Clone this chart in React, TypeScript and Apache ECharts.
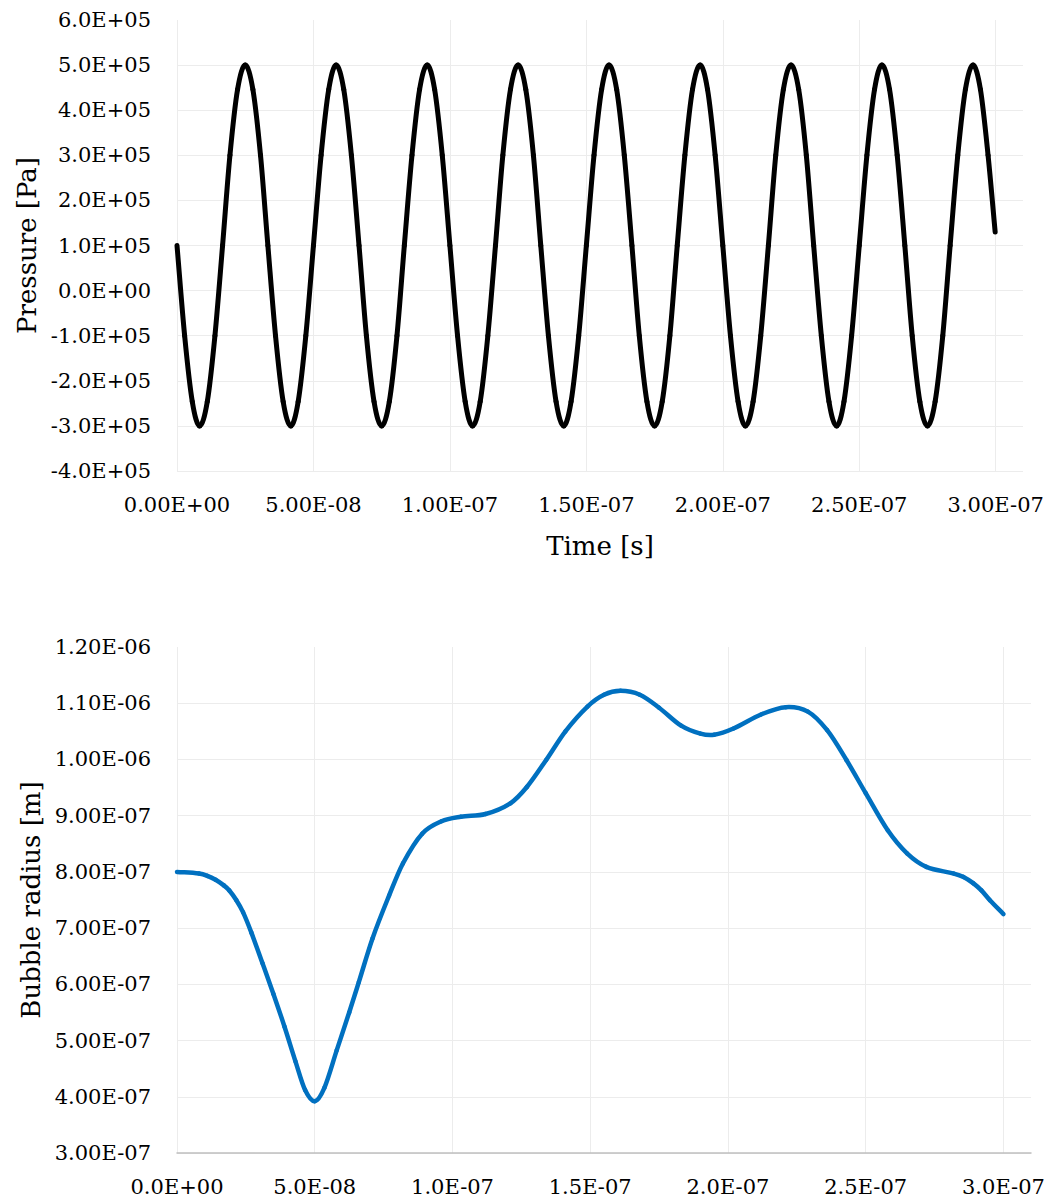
import React, { useEffect, useRef } from "react";
import * as echarts from "echarts";

// Top panel: pressure vs time (time in ns, pressure in Pa)
const pressureTimeNs = [
  0, 2.8, 5.6, 8.3, 11.1, 13.9, 16.7, 19.4, 22.2, 25.0, 27.8, 30.6,
  33.3, 36.1, 38.9, 41.7, 44.4, 47.2, 50.0, 52.8, 55.6, 58.3, 61.1, 63.9,
  66.7, 69.4, 72.2, 75.0, 77.8, 80.6, 83.3, 86.1, 88.9, 91.7, 94.4, 97.2,
  100.0, 102.8, 105.6, 108.3, 111.1, 113.9, 116.7, 119.4, 122.2, 125.0, 127.8, 130.6,
  133.3, 136.1, 138.9, 141.7, 144.4, 147.2, 150.0, 152.8, 155.6, 158.3, 161.1, 163.9,
  166.7, 169.4, 172.2, 175.0, 177.8, 180.6, 183.3, 186.1, 188.9, 191.7, 194.4, 197.2,
  200.0, 202.8, 205.6, 208.3, 211.1, 213.9, 216.7, 219.4, 222.2, 225.0, 227.8, 230.6,
  233.3, 236.1, 238.9, 241.7, 244.4, 247.2, 250.0, 252.8, 255.6, 258.3, 261.1, 263.9,
  266.7, 269.4, 272.2, 275.0, 277.8, 280.6, 283.3, 286.1, 288.9, 291.7, 294.4, 297.2,
  299.8,
];
const pressurePa = [
  1.0e5, -1.0e5, -2.46e5, -3.0e5, -2.46e5, -1.0e5, 1.0e5, 3.0e5, 4.46e5, 5.0e5, 4.46e5, 3.0e5,
  1.0e5, -1.0e5, -2.46e5, -3.0e5, -2.46e5, -1.0e5, 1.0e5, 3.0e5, 4.46e5, 5.0e5, 4.46e5, 3.0e5,
  1.0e5, -1.0e5, -2.46e5, -3.0e5, -2.46e5, -1.0e5, 1.0e5, 3.0e5, 4.46e5, 5.0e5, 4.46e5, 3.0e5,
  1.0e5, -1.0e5, -2.46e5, -3.0e5, -2.46e5, -1.0e5, 1.0e5, 3.0e5, 4.46e5, 5.0e5, 4.46e5, 3.0e5,
  1.0e5, -1.0e5, -2.46e5, -3.0e5, -2.46e5, -1.0e5, 1.0e5, 3.0e5, 4.46e5, 5.0e5, 4.46e5, 3.0e5,
  1.0e5, -1.0e5, -2.46e5, -3.0e5, -2.46e5, -1.0e5, 1.0e5, 3.0e5, 4.46e5, 5.0e5, 4.46e5, 3.0e5,
  1.0e5, -1.0e5, -2.46e5, -3.0e5, -2.46e5, -1.0e5, 1.0e5, 3.0e5, 4.46e5, 5.0e5, 4.46e5, 3.0e5,
  1.0e5, -1.0e5, -2.46e5, -3.0e5, -2.46e5, -1.0e5, 1.0e5, 3.0e5, 4.46e5, 5.0e5, 4.46e5, 3.0e5,
  1.0e5, -1.0e5, -2.46e5, -3.0e5, -2.46e5, -1.0e5, 1.0e5, 3.0e5, 4.46e5, 5.0e5, 4.46e5, 3.0e5,
  1.3e5,
];

// Bottom panel: bubble radius vs time (time in ns, radius in m)
const radiusTimeNs = [
  0, 8, 11, 14, 17, 19, 21.5, 24, 27, 31, 35, 39, 43, 46.5, 50, 53.5, 58, 62.5,
  66, 71, 77, 82, 89, 96, 103, 112, 121, 127, 134, 141, 149, 155, 161, 168, 175,
  183, 190, 195, 202, 212, 221, 229, 236, 243, 250, 258, 265, 272, 282, 285.5,
  289, 292, 295, 300,
];
const radiusM = [
  8.0e-7, 7.97e-7, 7.93e-7, 7.86e-7, 7.76e-7, 7.67e-7, 7.5e-7, 7.28e-7, 6.92e-7,
  6.38e-7, 5.83e-7, 5.25e-7, 4.63e-7, 4.12e-7, 3.92e-7, 4.16e-7, 4.83e-7, 5.5e-7,
  6.04e-7, 6.82e-7, 7.58e-7, 8.15e-7, 8.68e-7, 8.9e-7, 8.98e-7, 9.03e-7, 9.22e-7,
  9.51e-7, 9.99e-7, 1.05e-6, 1.094e-6, 1.115e-6, 1.122e-6, 1.115e-6, 1.092e-6,
  1.06e-6, 1.046e-6, 1.044e-6, 1.055e-6, 1.08e-6, 1.093e-6, 1.085e-6, 1.052e-6,
  9.99e-7, 9.4e-7, 8.74e-7, 8.33e-7, 8.09e-7, 7.97e-7, 7.91e-7, 7.8e-7, 7.67e-7,
  7.5e-7, 7.25e-7,
];

const FONT = "DejaVu Serif";

function sci(v: number, d: number): string {
  if (Math.abs(v) < 1e-30) return (0).toFixed(d) + "E+00";
  const s = v.toExponential(d);
  const [m, e] = s.split("e");
  const sign = e[0] === "-" ? "-" : "+";
  const digits = e.replace(/[+-]/, "").padStart(2, "0");
  return m + "E" + sign + digits;
}

const gridLine = { show: true, showMaxLine: false, lineStyle: { color: "#ececec", width: 1 } };
const labelStyle = { fontFamily: FONT, fontSize: 21, color: "#000" };
const nameStyle = { fontFamily: FONT, fontSize: 26, color: "#000" };

// Smooth curve (cubic Hermite) drawn segment by segment from points placed by the axes (api.coord)
function smoothSeries(data: number[][], axisIndex: number, color: string, width: number) {
  const n = data.length;
  return {
    type: "custom",
    coordinateSystem: "cartesian2d",
    xAxisIndex: axisIndex,
    yAxisIndex: axisIndex,
    data,
    encode: { x: 0, y: 1 },
    clip: false,
    renderItem: (params: any, api: any) => {
      const i = params.dataIndex;
      if (i >= n - 1) return null;
      const p = (k: number) => api.coord(data[k]);
      const slope = (k: number) => {
        const a = p(Math.max(0, k - 1));
        const b = p(Math.min(n - 1, k + 1));
        return (b[1] - a[1]) / (b[0] - a[0]);
      };
      const p1 = p(i);
      const p2 = p(i + 1);
      const h = p2[0] - p1[0];
      const m1 = slope(i);
      const m2 = slope(i + 1);
      return {
        type: "bezierCurve",
        shape: {
          x1: p1[0], y1: p1[1], x2: p2[0], y2: p2[1],
          cpx1: p1[0] + h / 3, cpy1: p1[1] + (m1 * h) / 3,
          cpx2: p2[0] - h / 3, cpy2: p2[1] - (m2 * h) / 3,
        },
        style: { stroke: color, lineWidth: width, fill: "none", lineCap: "round", lineJoin: "round" },
        silent: true,
      };
    },
  };
}

export default function App() {
  const ref = useRef<HTMLDivElement>(null);
  useEffect(() => {
    if (!ref.current) return;
    const chart = echarts.init(ref.current, undefined, { renderer: "svg" });
    const pData = pressureTimeNs.map((t, i) => [t * 1e-9, pressurePa[i]]);
    const rData = radiusTimeNs.map((t, i) => [t * 1e-9, radiusM[i]]);
    chart.setOption({
      animation: false,
      backgroundColor: "#fff",
      grid: [
        { left: 177, top: 20, width: 846, height: 451 },
        { left: 177, top: 647, width: 854, height: 506 },
      ],
      xAxis: [
        {
          gridIndex: 0, type: "value", min: 0, max: 3.1e-7, interval: 5e-8,
          axisLine: { show: false }, axisTick: { show: false },
          splitLine: gridLine,
          axisLabel: { ...labelStyle, showMaxLabel: false, margin: 23, formatter: (v: number) => sci(v, 2) },
          name: "Time [s]", nameLocation: "middle", nameGap: 62, nameTextStyle: nameStyle,
        },
        {
          gridIndex: 1, type: "value", min: 0, max: 3.1e-7, interval: 5e-8,
          axisLine: { show: true, lineStyle: { color: "#bfbfbf", width: 1.5 } }, axisTick: { show: false },
          splitLine: gridLine,
          axisLabel: { ...labelStyle, showMaxLabel: false, margin: 23, formatter: (v: number) => sci(v, 1) },
        },
      ],
      yAxis: [
        {
          gridIndex: 0, type: "value", min: -4e5, max: 6e5, interval: 1e5,
          axisLine: { show: false }, axisTick: { show: false },
          splitLine: gridLine,
          axisLabel: { ...labelStyle, margin: 26, formatter: (v: number) => sci(v, 1) },
          name: "Pressure [Pa]", nameLocation: "middle", nameGap: 135, nameTextStyle: nameStyle,
        },
        {
          gridIndex: 1, type: "value", min: 3e-7, max: 1.2e-6, interval: 1e-7,
          axisLine: { show: false }, axisTick: { show: false },
          splitLine: gridLine,
          axisLabel: { ...labelStyle, margin: 26, formatter: (v: number) => sci(v, 2) },
          name: "Bubble radius [m]", nameLocation: "middle", nameGap: 133, nameTextStyle: nameStyle,
        },
      ],
      series: [
        smoothSeries(pData, 0, "#000000", 5),
        smoothSeries(rData, 1, "#0070C0", 4.5),
      ],
    });
    return () => chart.dispose();
  }, []);
  return (
    <div
      ref={ref}
      style={{ position: "absolute", left: 0, top: 0, width: 1055, height: 1202, background: "#fff" }}
    />
  );
}
